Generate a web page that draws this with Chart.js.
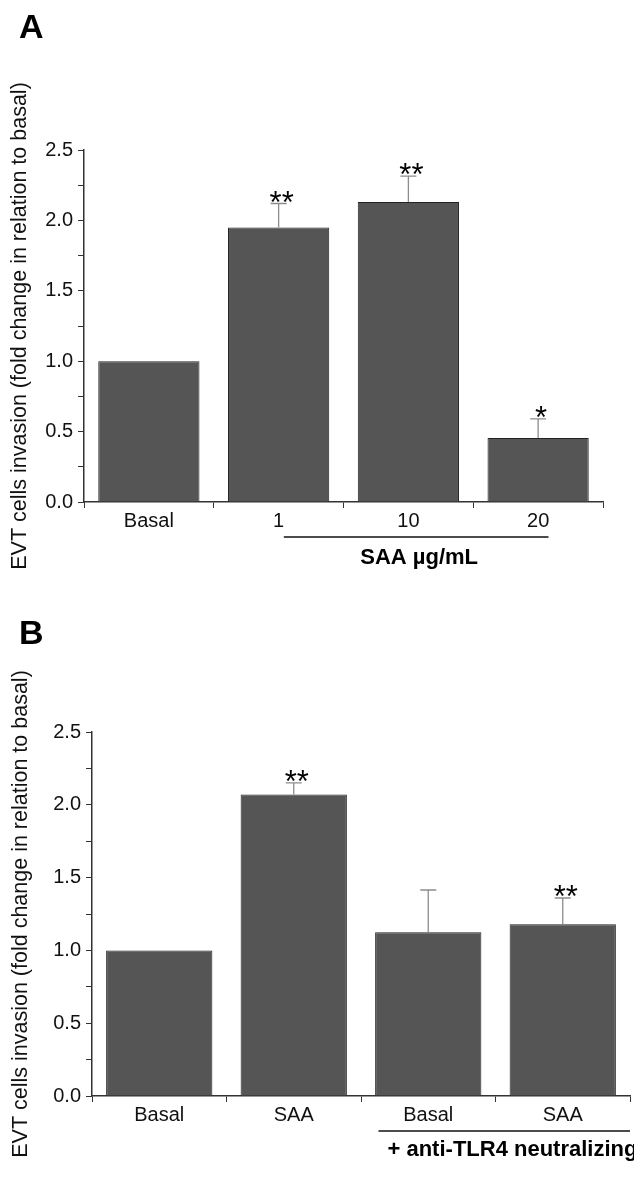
<!DOCTYPE html>
<html>
<head>
<meta charset="utf-8">
<script src="https://cdn.jsdelivr.net/npm/chart.js@4/dist/chart.umd.min.js"></script>
<style>
  body { margin: 0; background: #fff; }
  canvas { position: absolute; left: 0; }
  #chartA { top: 0; }
  #chartB { top: 590px; }
</style>
</head>
<body>
<canvas id="chartA" width="634" height="590"></canvas>
<canvas id="chartB" width="634" height="591"></canvas>
<script>
// Panel A: SAA dose
const labelsA = ['Basal', '1', '10', '20'];
const meansA = [1.0, 1.95, 2.13, 0.455];
const semA = [0, 0.17, 0.185, 0.135];
const sigA = ['', '**', '**', '*'];

// Panel B: SAA with anti-TLR4
const labelsB = ['Basal', 'SAA', 'Basal', 'SAA'];
const meansB = [1.0, 2.07, 1.125, 1.18];
const semB = [0, 0.08, 0.29, 0.18];
const sigB = ['', '**', '', '**'];

const yTitle = 'EVT cells invasion (fold change in relation to basal)';
const FONT = 'Liberation Sans, Arial, sans-serif';

// error bars (upper only) + significance stars
const errorBars = {
  id: 'errorBars',
  afterDatasetsDraw(chart, args, opts) {
    const ctx = chart.ctx;
    const y = chart.scales.y;
    const data = chart.data.datasets[0].data;
    chart.getDatasetMeta(0).data.forEach((bar, i) => {
      const yTop = y.getPixelForValue(data[i] + opts.sem[i]);
      ctx.save();
      if (opts.sem[i] > 0) {
        ctx.strokeStyle = '#8c8c8c';
        ctx.lineWidth = 1.3;
        ctx.beginPath();
        ctx.moveTo(bar.x, bar.y);
        ctx.lineTo(bar.x, yTop);
        ctx.moveTo(bar.x - 8, yTop);
        ctx.lineTo(bar.x + 8, yTop);
        ctx.stroke();
      }
      if (opts.sig[i]) {
        ctx.fillStyle = '#000';
        ctx.font = '31px ' + FONT;
        ctx.textAlign = 'center';
        ctx.textBaseline = 'alphabetic';
        ctx.fillText(opts.sig[i], bar.x + 3, yTop + 9);
      }
      ctx.restore();
    });
  }
};

// panel letter, group underline and group label
const extras = {
  id: 'extras',
  afterDraw(chart, args, opts) {
    const ctx = chart.ctx;
    const x = chart.scales.x;
    const step = x.getPixelForValue(1) - x.getPixelForValue(0);
    ctx.save();
    ctx.fillStyle = '#000';
    ctx.font = 'bold 34px ' + FONT;
    ctx.textBaseline = 'alphabetic';
    ctx.fillText(opts.letter, 19, opts.letterY);

    const x0 = x.getPixelForValue(opts.from) + opts.fromOff * step;
    const x1 = x.getPixelForValue(opts.to) + opts.toOff * step;
    ctx.strokeStyle = '#111';
    ctx.lineWidth = 1.5;
    ctx.beginPath();
    ctx.moveTo(x0, opts.lineY);
    ctx.lineTo(x1, opts.lineY);
    ctx.stroke();

    ctx.font = 'bold 22px ' + FONT;
    ctx.textBaseline = 'middle';
    ctx.textAlign = opts.align;
    const tx = opts.align === 'center' ? (x0 + x1) / 2 + 3 : x0 + 9;
    ctx.fillText(opts.text, tx, opts.textY);
    ctx.restore();
  }
};

function makeChart(id, labels, means, sem, sig, cfg) {
  return new Chart(document.getElementById(id), {
    type: 'bar',
    data: {
      labels: labels,
      datasets: [{
        data: means,
        backgroundColor: '#555555',
        borderColor: '#222222',
        borderWidth: 1,
        barPercentage: cfg.barPct,
        categoryPercentage: 1.0
      }]
    },
    options: {
      responsive: false,
      animation: false,
      layout: { padding: cfg.padding },
      plugins: {
        legend: { display: false },
        tooltip: { enabled: false },
        errorBars: { sem: sem, sig: sig },
        extras: cfg.extras
      },
      scales: {
        x: {
          grid: { drawOnChartArea: false, tickLength: 6, tickColor: '#333', offset: true },
          border: { color: '#333', width: 1.5 },
          ticks: { color: '#111', font: { family: FONT, size: 20 }, padding: 1 },
          afterFit(scale) { scale.height = cfg.xHeight; }
        },
        y: {
          min: 0,
          max: 2.5,
          ticks: {
            stepSize: 0.25,
            autoSkip: false,
            color: '#111',
            font: { family: FONT, size: 20 },
            padding: 5,
            callback: v => (Math.round(v * 100) % 50 === 0 ? v.toFixed(1) : '')
          },
          grid: { drawOnChartArea: false, tickLength: 6, tickColor: '#333' },
          border: { color: '#333', width: 1.5 },
          title: {
            display: true,
            text: yTitle,
            color: '#111',
            font: { family: FONT, size: 21.5 },
            padding: { top: 0, bottom: 0 }
          },
          afterFit(scale) { scale.width = cfg.yWidth; }
        }
      }
    },
    plugins: [errorBars, extras]
  });
}

makeChart('chartA', labelsA, meansA, semA, sigA, {
  barPct: 0.78,
  padding: { top: 150, left: 7, right: 31, bottom: 0 },
  yWidth: 77,
  xHeight: 88,
  extras: { letter: 'A', letterY: 38, from: 1, fromOff: 0.04, to: 3, toOff: 0.08,
            lineY: 537, text: 'SAA \u00b5g/mL', textY: 558, align: 'center' }
});

makeChart('chartB', labelsB, meansB, semB, sigB, {
  barPct: 0.79,
  padding: { top: 142, left: 8, right: 4, bottom: 0 },
  yWidth: 84,
  xHeight: 85,
  extras: { letter: 'B', letterY: 54, from: 2, fromOff: -0.37, to: 3, toOff: 0.5,
            lineY: 541, text: '+ anti-TLR4 neutralizing', textY: 560, align: 'left' }
});
</script>
</body>
</html>
